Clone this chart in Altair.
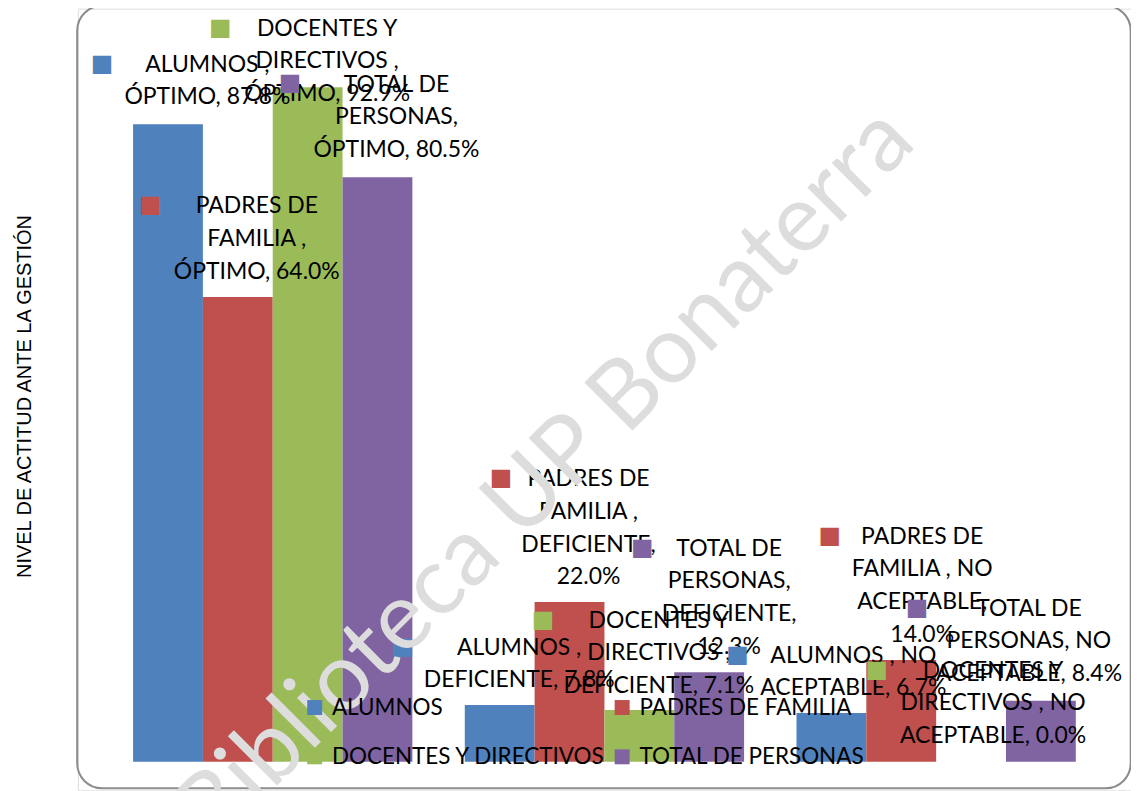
import altair as alt
import pandas as pd

# ---------------- data ----------------
SERIES = ["ALUMNOS", "PADRES DE FAMILIA", "DOCENTES Y DIRECTIVOS", "TOTAL DE PERSONAS"]
CATEGORIES = ["ÓPTIMO", "DEFICIENTE", "NO ACEPTABLE"]

ALUMNOS = [87.8, 7.8, 6.7]
PADRES = [64.0, 22.0, 14.0]
DOCENTES = [92.9, 7.1, 0.0]
TOTAL = [80.5, 12.3, 8.4]

LABELS_ALUMNOS = ["ALUMNOS ,\nÓPTIMO, 87.8%", "ALUMNOS ,\nDEFICIENTE, 7.8%", "ALUMNOS , NO\nACEPTABLE, 6.7%"]
LABELS_PADRES = ["PADRES DE\nFAMILIA ,\nÓPTIMO, 64.0%", "PADRES DE\nFAMILIA ,\nDEFICIENTE,\n22.0%",
                 "PADRES DE\nFAMILIA , NO\nACEPTABLE,\n14.0%"]
LABELS_DOCENTES = ["DOCENTES Y\nDIRECTIVOS ,\nÓPTIMO, 92.9%", "DOCENTES Y\nDIRECTIVOS ,\nDEFICIENTE, 7.1%",
                   "DOCENTES Y\nDIRECTIVOS , NO\nACEPTABLE, 0.0%"]
LABELS_TOTAL = ["TOTAL DE\nPERSONAS,\nÓPTIMO, 80.5%", "TOTAL DE\nPERSONAS,\nDEFICIENTE,\n12.3%",
                "TOTAL DE\nPERSONAS, NO\nACEPTABLE, 8.4%"]

Y_TITLE = "NIVEL DE ACTITUD ANTE LA GESTIÓN"
WATERMARK = "Biblioteca UP Bonaterra"

# ---------------- styles / layout ----------------
COLORS = ["#4F81BD", "#C0504D", "#9BBB59", "#8064A2"]
FONT = "Lato"
FS = 23
LEG_FS = 22.5
LH = 32.7

# label layout: (text dx from bar centre, first-line centre relative to bar top, marker dx)
LAYOUT = {
    ("ALUMNOS", "ÓPTIMO"): (39.5, -60.8, -66),
    ("PADRES DE FAMILIA", "ÓPTIMO"): (19, -92, -87.5),
    ("DOCENTES Y DIRECTIVOS", "ÓPTIMO"): (19.5, -59.7, -87.5),
    ("TOTAL DE PERSONAS", "ÓPTIMO"): (19, -94, -87.5),
    ("ALUMNOS", "DEFICIENTE"): (19.5, -58.6, -97),
    ("PADRES DE FAMILIA", "DEFICIENTE"): (19, -124, -68.5),
    ("DOCENTES Y DIRECTIVOS", "DEFICIENTE"): (19.5, -90.7, -96.5),
    ("TOTAL DE PERSONAS", "DEFICIENTE"): (20, -125, -67),
    ("ALUMNOS", "NO ACEPTABLE"): (22, -58.6, -94),
    ("PADRES DE FAMILIA", "NO ACEPTABLE"): (21, -124.5, -71.5),
    ("DOCENTES Y DIRECTIVOS", "NO ACEPTABLE"): (22, -92.3, -94.5),
    ("TOTAL DE PERSONAS", "NO ACEPTABLE"): (-12, -93.2, -124),
}

W, H = 1055, 783

rows = []
for s, vals, labs in zip(SERIES, [ALUMNOS, PADRES, DOCENTES, TOTAL],
                         [LABELS_ALUMNOS, LABELS_PADRES, LABELS_DOCENTES, LABELS_TOTAL]):
    for c, v, l in zip(CATEGORIES, vals, labs):
        rows.append({"series": s, "category": c, "value": v, "label": l})
df = pd.DataFrame(rows)

x_enc = alt.X("category:N", sort=CATEGORIES, axis=None,
              scale=alt.Scale(domain=CATEGORIES, range=[55.3, 999.7], paddingInner=0.158, paddingOuter=0))
xo_enc = alt.XOffset("series:N", sort=SERIES,
                     scale=alt.Scale(domain=SERIES, paddingInner=0, paddingOuter=0))
y_enc = alt.Y("value:Q",
              scale=alt.Scale(domain=[0, 100], range=[754.3, 27.1], nice=False),
              axis=alt.Axis(title=Y_TITLE, labels=False, ticks=False, domain=False, grid=False,
                            titleFont="Liberation Sans", titleFontSize=20, titleFontWeight="normal",
                            titleColor="#000000", titleX=-53.5, titleY=388, titleAngle=270,
                            titleAlign="center", titleBaseline="middle"))
color_enc = alt.Color("series:N", sort=SERIES,
                      scale=alt.Scale(domain=SERIES, range=COLORS),
                      legend=alt.Legend(title=None, orient="none", legendX=226, legendY=688.7,
                                        direction="horizontal", columns=2, symbolType="square",
                                        symbolSize=225, symbolStrokeWidth=0, labelFont=FONT,
                                        labelFontSize=LEG_FS, labelColor="#000000", labelOffset=6,
                                        labelLimit=500, rowPadding=26.5, columnPadding=5, padding=0))

base = alt.Chart(df)

frame = alt.Chart(pd.DataFrame({"k": [0]})).mark_rect(
    filled=False, stroke="#8c8c8c", strokeWidth=2, cornerRadius=25
).encode(x=alt.value(-0.7), x2=alt.value(1054.7), y=alt.value(-3), y2=alt.value(781))

bars = base.mark_bar().encode(x=x_enc, xOffset=xo_enc, y=y_enc, color=color_enc)

layers = [frame, bars]
markers = []
for (s, c), (tdx, fdy, mdx) in LAYOUT.items():
    sel = base.transform_filter((alt.datum.series == s) & (alt.datum.category == c))
    layers.append(sel.mark_text(font=FONT, fontSize=FS, color="#000000", align="center",
                                baseline="top", lineBreak="\n", lineHeight=LH,
                                dx=tdx, dy=fdy - 9.9).encode(
        x=x_enc, xOffset=xo_enc, y=y_enc, text="label:N"))
    markers.append(sel.mark_text(text="■", font="DejaVu Sans", fontSize=24, align="center",
                                 baseline="middle", dx=mdx, dy=fdy).encode(
        x=x_enc, xOffset=xo_enc, y=y_enc, color=color_enc))
layers += markers

watermark = alt.Chart(pd.DataFrame({"t": [WATERMARK]})).mark_text(
    font=FONT, fontSize=95, color="#dddddd", angle=315, align="center", baseline="alphabetic"
).encode(x=alt.value(489), y=alt.value(489), text="t:N")
layers.append(watermark)

chart = alt.layer(*layers).properties(
    width=W, height=H,
    padding={"left": 70, "top": 0, "right": 0, "bottom": 0},
    autosize=alt.AutoSizeParams(type="none"),
).configure_view(stroke="transparent").configure(background="white")

chart.save("out.html", embed_options={"renderer": "svg", "actions": False})
